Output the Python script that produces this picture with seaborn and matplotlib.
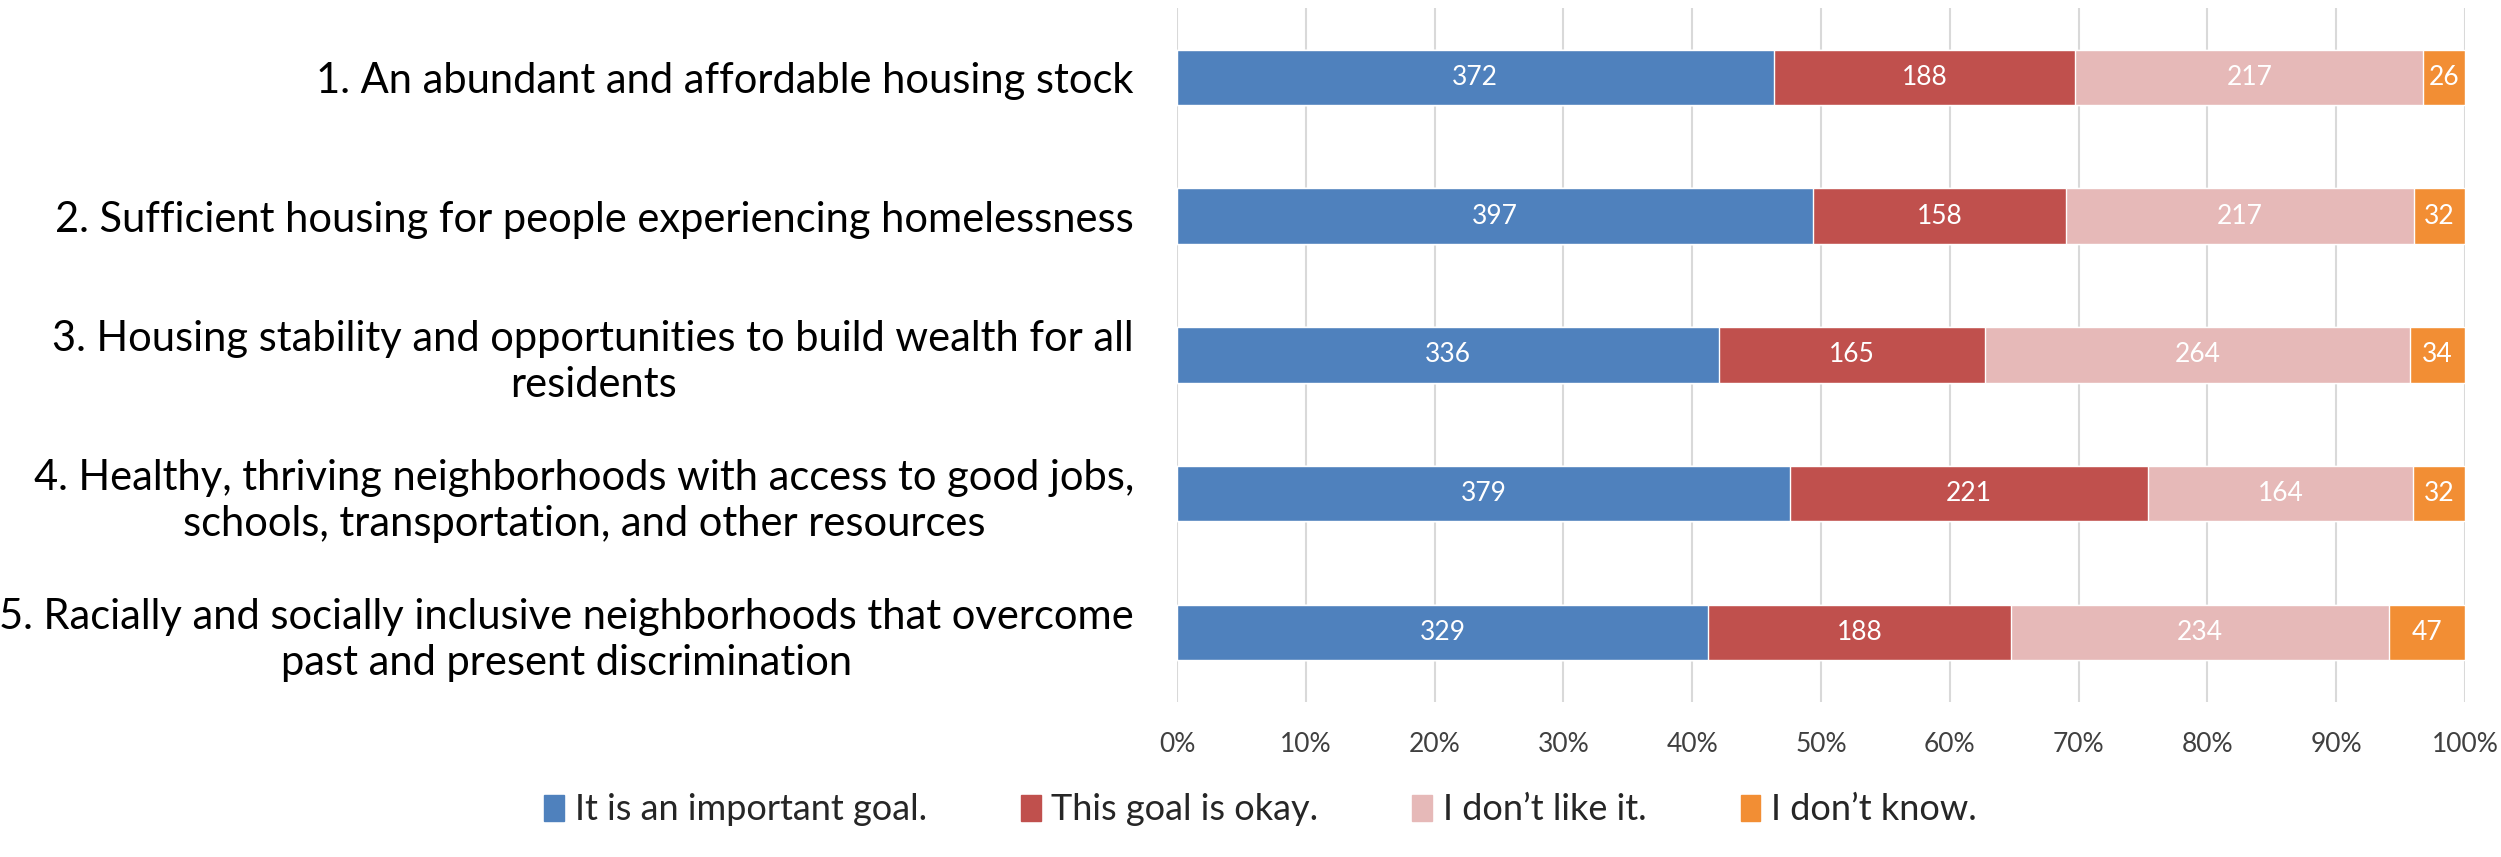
import matplotlib
matplotlib.use("Agg")
import matplotlib.pyplot as plt
import seaborn as sns
import numpy as np
import pandas as pd

# Survey responses per housing goal
goals = [
    "1. An abundant and affordable housing stock",
    "2. Sufficient housing for people experiencing homelessness",
    "3. Housing stability and opportunities to build wealth for all\nresidents",
    "4. Healthy, thriving neighborhoods with access to good jobs,\nschools, transportation, and other resources",
    "5. Racially and socially inclusive neighborhoods that overcome\npast and present discrimination",
]
responses = ["It is an important goal.", "This goal is okay.", "I don\u2019t like it.", "I don\u2019t know."]
important = [372, 397, 336, 379, 329]
okay = [188, 158, 165, 221, 188]
dislike = [217, 217, 264, 164, 234]
dont_know = [26, 32, 34, 32, 47]
tick_labels = ["0%", "10%", "20%", "30%", "40%", "50%", "60%", "70%", "80%", "90%", "100%"]

colors = ["#4F81BD", "#C0504D", "#E6B9B8", "#F28E34"]

sns.set_theme(style="white")
plt.rcParams["font.family"] = ["Lato", "DejaVu Sans"]

counts = np.array([important, okay, dislike, dont_know], dtype=float)
shares = counts / counts.sum(axis=0) * 100
cum = np.cumsum(shares, axis=0)

fig = plt.figure(figsize=(25.01, 8.57), dpi=100)
ax = fig.add_axes([0.4706, 0.181, 0.515, 0.8097])

# Stack by drawing cumulative totals from the outermost segment inward
for i in range(len(responses) - 1, -1, -1):
    df = pd.DataFrame({"goal": goals, "pct": cum[i]})
    sns.barplot(data=df, x="pct", y="goal", color=colors[i], width=0.4,
                saturation=1, ax=ax, zorder=3)

# Segment value labels
for i in range(len(responses)):
    starts = cum[i] - shares[i]
    for j in range(len(goals)):
        ax.text(starts[j] + shares[i, j] / 2, j, f"{int(counts[i, j])}",
                ha="center", va="center", color="white", fontsize=19, zorder=4)

ax.set_xlim(0, 100)
ax.set_xticks(np.arange(0, 101, 10))
ax.set_xticklabels(tick_labels, fontsize=19, color="#404040")
ax.set_yticklabels(goals, fontsize=30, color="black", multialignment="center",
                   linespacing=1.25)
ax.tick_params(axis="x", length=0, pad=22)
ax.tick_params(axis="y", length=0, pad=31)
ax.set_xlabel("")
ax.set_ylabel("")
ax.grid(axis="x", color="#D9D9D9", linewidth=1.5, zorder=0)
ax.grid(axis="y", visible=False)
for s in ax.spines.values():
    s.set_visible(False)

handles = [plt.Rectangle((0, 0), 1, 1, color=c) for c in colors]
fig.legend(handles, responses, loc="center", bbox_to_anchor=(0.504, 0.055), ncol=4,
           frameon=False, fontsize=26, handlelength=0.55, handleheight=0.75,
           handletextpad=0.3, columnspacing=2.6)

fig.savefig("out.png", dpi=100)
